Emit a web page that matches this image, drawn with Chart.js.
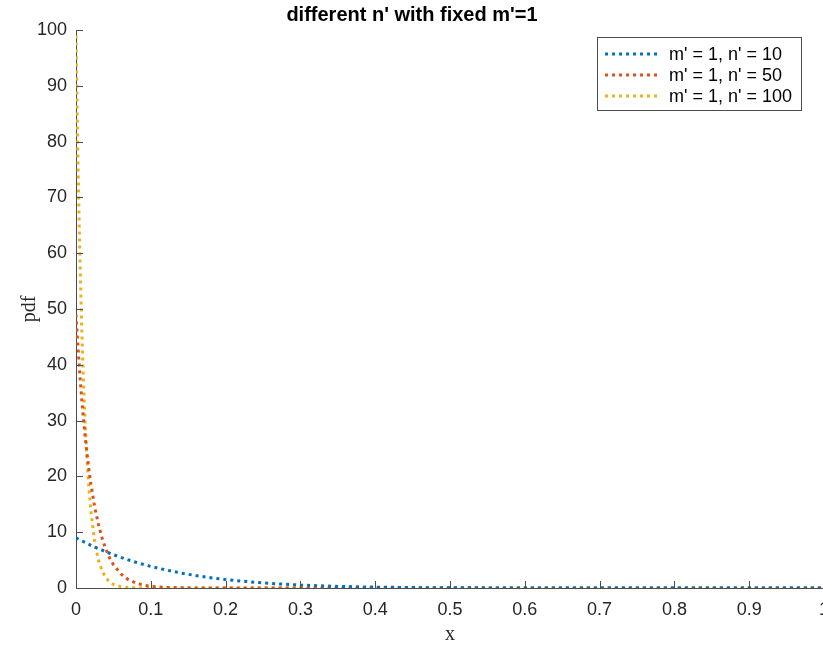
<!DOCTYPE html>
<html>
<head>
<meta charset="utf-8">
<script src="https://cdn.jsdelivr.net/npm/chart.js@4"></script>
<style>
  html, body { margin: 0; padding: 0; background: #fff; overflow: hidden; }
  #wrap { width: 840px; height: 648px; }
</style>
</head>
<body>
<div id="wrap"><canvas id="pdfChart" width="840" height="648"></canvas></div>
<script>
// sample positions along x, shared by all three curves
const xs = [0, 0.0025, 0.005, 0.0075, 0.01, 0.0125, 0.015, 0.0175, 0.02, 0.025,
            0.03, 0.035, 0.04, 0.045, 0.05, 0.06, 0.07, 0.08, 0.09, 0.1,
            0.12, 0.14, 0.16, 0.18, 0.2, 0.25, 0.3, 0.35, 0.4, 0.45,
            0.5, 0.6, 0.7, 0.8, 0.9, 1.0];

const pdfN10  = [9.0, 8.82, 8.65, 8.47, 8.3, 8.14, 7.97, 7.81, 7.66, 7.35,
                 7.05, 6.77, 6.49, 6.23, 5.97, 5.49, 5.04, 4.62, 4.23, 3.87,
                 3.24, 2.69, 2.23, 1.84, 1.51, 0.9, 0.52, 0.29, 0.15, 0.076,
                 0.035, 0.006, 0.0006, 0, 0, 0];

const pdfN50  = [49, 43.5, 38.5, 34.1, 30.2, 26.8, 23.7, 21.0, 18.6, 14.5,
                 11.4, 8.86, 6.9, 5.38, 4.18, 2.51, 1.5, 0.9, 0.53, 0.31,
                 0.11, 0.035, 0.011, 0.003, 0, 0, 0, 0, 0, 0,
                 0, 0, 0, 0, 0, 0];

const pdfN100 = [99, 77.5, 60.6, 47.3, 37.0, 28.9, 22.5, 17.5, 13.7, 8.28,
                 5.0, 3.02, 1.81, 1.09, 0.65, 0.23, 0.08, 0.03, 0.01, 0,
                 0, 0, 0, 0, 0, 0, 0, 0, 0, 0,
                 0, 0, 0, 0, 0, 0];

const seriesLabels = ["m' = 1, n' = 10", "m' = 1, n' = 50", "m' = 1, n' = 100"];
const seriesColors = ['#0072BD', '#D95319', '#EDB120'];

const xTicks = [0, 0.1, 0.2, 0.3, 0.4, 0.5, 0.6, 0.7, 0.8, 0.9, 1];
const yTicks = [0, 10, 20, 30, 40, 50, 60, 70, 80, 90, 100];

const AXIS_COLOR = '#4d4d4d';
const TEXT_COLOR = '#262626';
const SANS  = '"Liberation Sans", Arial, Helvetica, sans-serif';
const SERIF = '"Liberation Serif", "Times New Roman", serif';
const DOTS  = [3, 4];

const toPoints = ys => ys.map((y, i) => ({ x: xs[i], y }));

// MATLAB style ticks: short marks pointing into the axes
const inwardTicks = {
  id: 'inwardTicks',
  afterDatasetsDraw(chart) {
    const { ctx, chartArea: a, scales: { x, y } } = chart;
    ctx.save();
    ctx.strokeStyle = AXIS_COLOR;
    ctx.lineWidth = 1;
    ctx.beginPath();
    x.ticks.forEach(t => {
      const px = Math.round(x.getPixelForValue(t.value)) + 0.5;
      ctx.moveTo(px, a.bottom);
      ctx.lineTo(px, a.bottom - 7);
    });
    y.ticks.forEach(t => {
      const py = Math.round(y.getPixelForValue(t.value)) + 0.5;
      ctx.moveTo(a.left, py);
      ctx.lineTo(a.left + 7, py);
    });
    ctx.stroke();
    ctx.restore();
  },
};

// boxed legend in the upper right corner, with dotted line samples
const boxLegend = {
  id: 'boxLegend',
  afterDraw(chart) {
    const { ctx, chartArea: a } = chart;
    const sets = chart.data.datasets;
    ctx.save();
    ctx.font = '18px ' + SANS;
    const textW = Math.max(...sets.map(d => ctx.measureText(d.label).width));
    const sample = 55, gap = 9, padL = 8, padR = 9, rowH = 21;
    const w = padL + sample + gap + textW + padR;
    const h = rowH * sets.length + 10;
    const left = a.right - 23 - w;
    const top  = a.top + 7;

    ctx.fillStyle = '#fff';
    ctx.fillRect(left, top, w, h);
    ctx.strokeStyle = AXIS_COLOR;
    ctx.lineWidth = 1;
    ctx.strokeRect(Math.round(left) + 0.5, Math.round(top) + 0.5, Math.round(w), Math.round(h));

    sets.forEach((d, i) => {
      const cy = top + 17 + i * rowH;
      ctx.save();
      ctx.strokeStyle = d.borderColor;
      ctx.lineWidth = 3;
      ctx.setLineDash(DOTS);
      ctx.beginPath();
      ctx.moveTo(left + padL, cy);
      ctx.lineTo(left + padL + sample, cy);
      ctx.stroke();
      ctx.restore();
      ctx.fillStyle = '#000';
      ctx.textBaseline = 'middle';
      ctx.fillText(d.label, left + padL + sample + gap, cy + 1);
    });
    ctx.restore();
  },
};

function buildChart() {
  const ctx = document.getElementById('pdfChart').getContext('2d');
  const allY = [pdfN10, pdfN50, pdfN100];

  const cfg = {
    type: 'line',
    data: {
      datasets: allY.map((ys, i) => ({
        label: seriesLabels[i],
        data: toPoints(ys),
        borderColor: seriesColors[i],
        backgroundColor: seriesColors[i],
        borderWidth: 3,
        borderDash: DOTS,
        borderCapStyle: 'butt',
        pointRadius: 0,
        fill: false,
        tension: 0,
      })),
    },
    options: {
      responsive: false,
      animation: false,
      layout: { padding: { left: 0, right: 16, top: 0, bottom: 0 } },
      plugins: {
        legend: { display: false },
        tooltip: { enabled: false },
        title: {
          display: true,
          text: "different n' with fixed m'=1",
          color: '#000',
          font: { family: SANS, size: 20, weight: 'bold' },
          padding: { top: 3, bottom: 3 },
        },
      },
      scales: {
        x: {
          type: 'linear',
          min: 0,
          max: 1,
          afterBuildTicks: s => { s.ticks = xTicks.map(v => ({ value: v })); },
          afterFit: s => { s.height = 60; },
          grid: { display: false, drawTicks: false },
          border: { display: true, color: AXIS_COLOR, width: 1 },
          ticks: {
            color: TEXT_COLOR,
            font: { family: SANS, size: 18 },
            padding: 11,
            maxRotation: 0,
            autoSkip: false,
            callback: v => String(v),
          },
          title: {
            display: true,
            text: 'x',
            color: TEXT_COLOR,
            font: { family: SERIF, size: 20 },
            padding: { top: 0, bottom: 1 },
          },
        },
        y: {
          min: 0,
          max: 100,
          afterBuildTicks: s => { s.ticks = yTicks.map(v => ({ value: v })); },
          afterFit: s => { s.width = 76; },
          grid: { display: false, drawTicks: false },
          border: { display: true, color: AXIS_COLOR, width: 1 },
          ticks: {
            color: TEXT_COLOR,
            font: { family: SANS, size: 18 },
            padding: 9,
            autoSkip: false,
            callback: v => String(v),
          },
          title: {
            display: true,
            text: 'pdf',
            color: TEXT_COLOR,
            font: { family: SERIF, size: 20 },
            padding: { top: 18, bottom: 0 },
          },
        },
      },
    },
    plugins: [inwardTicks, boxLegend],
  };

  return new Chart(ctx, cfg);
}

buildChart();
</script>
</body>
</html>
